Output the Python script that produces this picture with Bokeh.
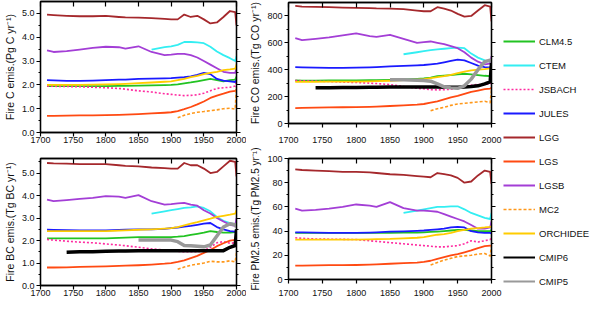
from bokeh.plotting import figure
from bokeh.models import (Range1d, FixedTicker, LinearAxis, NumeralTickFormatter, Legend,
                          LegendItem, CustomJSTickFormatter)
from bokeh.layouts import row, column
from bokeh.embed import file_html
from bokeh.resources import INLINE

nan = float("nan")

YEARS = [1710, 1720, 1740, 1760, 1780, 1800, 1820, 1830, 1850, 1870, 1890, 1900,
         1910, 1920, 1930, 1940, 1950, 1960, 1970, 1980, 1990, 1998, 2000]

MODELS = ["CLM4.5", "CTEM", "JSBACH", "JULES", "LGG", "LGS", "LGSB", "MC2",
          "ORCHIDEE", "CMIP6", "CMIP5"]

# ---- Fire C emissions (Pg C / yr)
C_CLM = [1.95, 1.95, 1.95, 1.95, 1.95, 1.95, 1.96, 1.96, 1.97, 1.98, 1.99, 2.00, 2.02, 2.06, 2.10, 2.15, 2.20, 2.25, 2.20, 2.15, 2.20, 2.22, 2.35]
C_CTEM = [nan, nan, nan, nan, nan, nan, nan, nan, nan, 3.48, 3.58, 3.62, 3.68, 3.80, 3.80, 3.78, 3.75, 3.60, 3.40, 3.25, 3.12, 3.00, 3.20]
C_JSBACH = [1.95, 1.94, 1.93, 1.92, 1.90, 1.88, 1.85, 1.82, 1.75, 1.70, 1.63, 1.60, 1.57, 1.55, 1.56, 1.58, 1.65, 1.75, 1.85, 1.88, 1.90, 1.95, 2.20]
C_JULES = [2.20, 2.19, 2.17, 2.17, 2.18, 2.20, 2.22, 2.22, 2.25, 2.26, 2.27, 2.28, 2.30, 2.32, 2.36, 2.42, 2.50, 2.45, 2.25, 2.18, 2.15, 2.12, 2.20]
C_LGG = [4.95, 4.93, 4.90, 4.88, 4.88, 4.90, 4.85, 4.83, 4.82, 4.80, 4.77, 4.75, 4.75, 4.95, 4.85, 4.90, 4.75, 4.58, 4.62, 4.85, 5.10, 5.05, 4.50]
C_LGS = [0.70, 0.70, 0.71, 0.72, 0.72, 0.73, 0.74, 0.75, 0.77, 0.80, 0.83, 0.85, 0.90, 0.98, 1.07, 1.18, 1.30, 1.45, 1.55, 1.63, 1.72, 1.75, 1.80]
C_LGSB = [3.45, 3.38, 3.42, 3.48, 3.55, 3.60, 3.58, 3.52, 3.62, 3.38, 3.25, 3.27, 3.30, 3.30, 3.25, 3.15, 3.00, 2.85, 2.70, 2.55, 2.50, 2.50, 2.70]
C_MC2 = [nan, nan, nan, nan, nan, nan, nan, nan, nan, nan, nan, nan, 0.62, 0.72, 0.80, 0.85, 0.88, 0.92, 0.95, 1.00, 1.02, 0.98, 1.90]
C_ORCHIDEE = [2.00, 2.00, 2.00, 2.00, 2.01, 2.02, 2.03, 2.04, 2.07, 2.10, 2.13, 2.15, 2.20, 2.25, 2.32, 2.38, 2.45, 2.50, 2.55, 2.62, 2.65, 2.68, 2.85]

# ---- Fire CO emissions (Tg CO / yr)
CO_CLM = [320, 318, 318, 320, 320, 320, 322, 323, 325, 328, 332, 335, 342, 352, 356, 360, 365, 370, 365, 360, 355, 352, 370]
CO_CTEM = [nan, nan, nan, nan, nan, nan, nan, nan, nan, 515, 530, 538, 545, 552, 556, 560, 565, 560, 520, 490, 470, 460, 455]
CO_JSBACH = [320, 318, 315, 312, 308, 305, 300, 297, 290, 275, 262, 258, 252, 250, 252, 255, 265, 275, 285, 290, 290, 295, 300]
CO_JULES = [420, 418, 415, 414, 414, 415, 418, 420, 425, 428, 432, 435, 440, 445, 455, 465, 475, 470, 450, 430, 420, 418, 430]
CO_LGG = [875, 870, 868, 865, 862, 860, 858, 856, 855, 850, 840, 835, 835, 865, 855, 840, 815, 795, 800, 840, 880, 870, 760]
CO_LGS = [115, 116, 118, 120, 121, 122, 124, 126, 130, 135, 140, 145, 155, 165, 180, 195, 205, 220, 235, 245, 255, 260, 265]
CO_LGSB = [635, 620, 630, 640, 655, 670, 650, 645, 660, 630, 600, 605, 610, 600, 590, 575, 560, 530, 490, 460, 440, 445, 500]
CO_MC2 = [nan, nan, nan, nan, nan, nan, nan, nan, nan, nan, nan, nan, 95, 110, 120, 135, 145, 150, 155, 160, 165, 155, 250]
CO_ORCHIDEE = [310, 310, 310, 311, 312, 312, 314, 315, 318, 322, 327, 330, 338, 345, 352, 362, 375, 385, 395, 400, 405, 410, 420]
CO_CMIP6 = [nan, nan, 265, 266, 267, 268, 269, 270, 272, 272, 272, 272, 272, 271, 270, 270, 270, 272, 275, 280, 295, 310, 450]
CO_CMIP5 = [nan, nan, nan, nan, nan, nan, nan, nan, 325, 325, 322, 320, 315, 295, 272, 265, 262, 280, 330, 400, 460, 470, 460]

# ---- Fire BC emissions (Tg BC / yr)
BC_CLM = [2.10, 2.10, 2.10, 2.10, 2.10, 2.10, 2.12, 2.13, 2.15, 2.15, 2.15, 2.15, 2.17, 2.20, 2.25, 2.30, 2.35, 2.42, 2.38, 2.35, 2.35, 2.38, 2.50]
BC_CTEM = [nan, nan, nan, nan, nan, nan, nan, nan, nan, 3.20, 3.30, 3.35, 3.40, 3.45, 3.48, 3.52, 3.45, 3.30, 3.05, 2.88, 2.78, 2.72, 2.70]
BC_JSBACH = [2.05, 2.02, 1.97, 1.93, 1.90, 1.85, 1.80, 1.77, 1.70, 1.63, 1.58, 1.55, 1.52, 1.50, 1.50, 1.50, 1.55, 1.70, 1.90, 1.95, 1.88, 1.90, 2.00]
BC_JULES = [2.48, 2.47, 2.46, 2.45, 2.45, 2.45, 2.47, 2.48, 2.50, 2.50, 2.52, 2.55, 2.58, 2.62, 2.65, 2.70, 2.75, 2.78, 2.60, 2.50, 2.42, 2.40, 2.45]
BC_LGG = [5.45, 5.43, 5.42, 5.40, 5.40, 5.40, 5.35, 5.32, 5.30, 5.25, 5.22, 5.20, 5.20, 5.45, 5.35, 5.35, 5.20, 5.00, 5.05, 5.30, 5.55, 5.50, 4.85]
BC_LGS = [0.80, 0.80, 0.81, 0.83, 0.84, 0.85, 0.87, 0.88, 0.90, 0.93, 0.97, 1.00, 1.05, 1.12, 1.22, 1.32, 1.45, 1.58, 1.75, 1.88, 2.00, 2.03, 2.05]
BC_LGSB = [3.82, 3.75, 3.80, 3.85, 3.90, 3.98, 3.95, 3.90, 4.02, 3.75, 3.60, 3.62, 3.65, 3.68, 3.60, 3.55, 3.35, 3.20, 3.00, 2.85, 2.70, 2.65, 3.00]
BC_MC2 = [nan, nan, nan, nan, nan, nan, nan, nan, nan, nan, nan, nan, 0.72, 0.82, 0.90, 0.95, 1.00, 1.08, 1.05, 1.05, 1.10, 1.05, 1.45]
BC_ORCHIDEE = [2.42, 2.42, 2.42, 2.42, 2.42, 2.42, 2.44, 2.45, 2.48, 2.50, 2.53, 2.55, 2.60, 2.68, 2.75, 2.82, 2.90, 2.97, 3.05, 3.10, 3.15, 3.20, 3.35]
BC_CMIP6 = [nan, nan, 1.48, 1.50, 1.50, 1.52, 1.53, 1.53, 1.55, 1.55, 1.55, 1.55, 1.55, 1.55, 1.55, 1.55, 1.55, 1.55, 1.55, 1.55, 1.70, 1.78, 2.50]
BC_CMIP5 = [nan, nan, nan, nan, nan, nan, nan, nan, 2.02, 2.02, 2.02, 2.02, 1.95, 1.78, 1.77, 1.75, 1.72, 1.80, 2.20, 2.60, 2.75, 2.70, 2.60]

# ---- Fire PM2.5 emissions (Tg PM2.5 / yr)
PM_CLM = [38.5, 38.5, 38.5, 38.5, 38.5, 38.5, 38.5, 38.5, 38.5, 38.7, 38.8, 39.0, 39.3, 39.6, 40.0, 40.5, 41.0, 41.0, 40.5, 40.0, 40.0, 40.0, 41.0]
PM_CTEM = [nan, nan, nan, nan, nan, nan, nan, nan, nan, 55, 57, 58, 59, 60, 60, 60.5, 60.5, 58, 55, 53, 51, 50, 55]
PM_JSBACH = [34.5, 34.0, 33.5, 33.3, 33.2, 33.0, 32.0, 31.5, 30.5, 29.5, 28.5, 28.0, 27.5, 27.0, 27.0, 27.5, 28.0, 29.5, 32.0, 31.0, 32.0, 33.0, 35.0]
PM_JULES = [39.0, 39.0, 38.7, 38.5, 38.5, 38.5, 38.8, 39.0, 39.5, 39.8, 40.2, 40.5, 41.0, 41.5, 42.0, 43.0, 43.5, 43.0, 40.0, 39.0, 38.5, 38.5, 38.0]
PM_LGG = [91, 90.5, 90, 89.5, 89, 89, 88.5, 88, 87, 86.5, 85.5, 85, 84.5, 88, 87, 86, 84, 80, 81, 86, 90, 89, 79]
PM_LGS = [11.5, 11.5, 11.7, 11.8, 11.9, 12.0, 12.3, 12.5, 13.0, 13.5, 14.0, 14.5, 15.5, 17.0, 18.5, 20.0, 21.0, 22.5, 24.0, 26.0, 27.5, 28.0, 28.0]
PM_LGSB = [58.5, 57, 57.5, 58.5, 60, 62, 61, 60, 64, 59, 57, 57, 56.5, 56, 54, 52, 50, 48, 45, 42, 42, 43, 48]
PM_MC2 = [nan, nan, nan, nan, nan, nan, nan, nan, nan, nan, nan, nan, 12, 14, 16, 17.5, 19, 19.5, 20, 21, 21.5, 19.5, 28]
PM_ORCHIDEE = [33, 33, 33, 33, 33, 33, 33.2, 33.3, 33.5, 34, 34.5, 35, 36, 37, 37.5, 38.5, 40, 41, 42, 42.5, 43, 43.5, 44]

X_TICKS = [1700, 1750, 1800, 1850, 1900, 1950, 2000]

STYLE = {
    "CLM4.5":   dict(color="#22c322", width=1.8, dash="solid"),
    "CTEM":     dict(color="#33eef2", width=1.8, dash="solid"),
    "JSBACH":   dict(color="#ff2aa0", width=1.6, dash="2 2"),
    "JULES":    dict(color="#1a1aff", width=1.8, dash="solid"),
    "LGG":      dict(color="#a5282c", width=1.8, dash="solid"),
    "LGS":      dict(color="#ff4a12", width=1.8, dash="solid"),
    "LGSB":     dict(color="#a33ed6", width=1.8, dash="solid"),
    "MC2":      dict(color="#ff981a", width=1.6, dash="3 2"),
    "ORCHIDEE": dict(color="#ffcc00", width=1.8, dash="solid"),
    "CMIP6":    dict(color="#000000", width=3.5, dash="solid"),
    "CMIP5":    dict(color="#999999", width=3.5, dash="solid"),
}

FONT = "Liberation Sans"
BLANK = CustomJSTickFormatter(code="return '';")


def style_axis(ax, labels=True, tick_in=False):
    ax.axis_line_color = "black"
    ax.axis_line_width = 1.3
    ax.major_tick_line_color = "black"
    ax.minor_tick_line_color = "black"
    ax.major_tick_line_width = 1.2
    ax.minor_tick_line_width = 1.0
    if tick_in:
        ax.major_tick_in, ax.major_tick_out = 5, 0
        ax.minor_tick_in, ax.minor_tick_out = 3, 0
    else:
        ax.major_tick_in, ax.major_tick_out = 0, 4
        ax.minor_tick_in, ax.minor_tick_out = 0, 2
    ax.major_label_text_font = FONT
    ax.major_label_text_color = "#111111"
    if labels:
        ax.major_label_text_font_size = "9px"
        ax.major_label_standoff = 2
    else:
        ax.formatter = BLANK
        ax.major_label_text_font_size = "1px"
        ax.major_label_standoff = 0


def make_panel(series, ylabel, ylabel_size, ymax, yticks, yminor, fmt, width, height,
               bl, bt, bb, br, xstandoff):
    p = figure(width=width, height=height, output_backend="svg", toolbar_location=None,
               x_range=Range1d(1700, 2000), y_range=Range1d(0, ymax),
               min_border_left=bl, min_border_top=bt, min_border_bottom=bb,
               min_border_right=br)
    p.xgrid.visible = False
    p.ygrid.visible = False
    p.outline_line_color = "black"
    p.outline_line_width = 1.3
    p.background_fill_color = "white"
    p.border_fill_color = "white"

    xt = FixedTicker(ticks=X_TICKS, minor_ticks=[])
    yt = FixedTicker(ticks=yticks, minor_ticks=yminor)

    xa = p.xaxis[0]
    xa.ticker = xt
    style_axis(xa)
    xa.major_label_standoff = xstandoff
    ya = p.yaxis[0]
    ya.ticker = yt
    ya.formatter = NumeralTickFormatter(format=fmt)
    style_axis(ya)
    ya.axis_label = ylabel
    ya.axis_label_text_font = FONT
    ya.axis_label_text_font_size = ylabel_size
    ya.axis_label_text_font_style = "normal"
    ya.axis_label_text_color = "#111111"
    ya.axis_label_standoff = 3

    top = LinearAxis(ticker=xt)
    style_axis(top, labels=False, tick_in=True)
    p.add_layout(top, "above")
    right = LinearAxis(ticker=yt)
    style_axis(right, labels=False)
    p.add_layout(right, "right")

    for m in MODELS:
        if m in series:
            s = STYLE[m]
            p.line(YEARS, series[m], line_color=s["color"], line_width=s["width"],
                   line_dash=s["dash"], line_join="round")
    return p


SER_C = {"CLM4.5": C_CLM, "CTEM": C_CTEM, "JSBACH": C_JSBACH, "JULES": C_JULES,
         "LGG": C_LGG, "LGS": C_LGS, "LGSB": C_LGSB, "MC2": C_MC2, "ORCHIDEE": C_ORCHIDEE}
SER_CO = {"CLM4.5": CO_CLM, "CTEM": CO_CTEM, "JSBACH": CO_JSBACH, "JULES": CO_JULES,
          "LGG": CO_LGG, "LGS": CO_LGS, "LGSB": CO_LGSB, "MC2": CO_MC2, "ORCHIDEE": CO_ORCHIDEE,
          "CMIP6": CO_CMIP6, "CMIP5": CO_CMIP5}
SER_BC = {"CLM4.5": BC_CLM, "CTEM": BC_CTEM, "JSBACH": BC_JSBACH, "JULES": BC_JULES,
          "LGG": BC_LGG, "LGS": BC_LGS, "LGSB": BC_LGSB, "MC2": BC_MC2, "ORCHIDEE": BC_ORCHIDEE,
          "CMIP6": BC_CMIP6, "CMIP5": BC_CMIP5}
SER_PM = {"CLM4.5": PM_CLM, "CTEM": PM_CTEM, "JSBACH": PM_JSBACH, "JULES": PM_JULES,
          "LGG": PM_LGG, "LGS": PM_LGS, "LGSB": PM_LGSB, "MC2": PM_MC2, "ORCHIDEE": PM_ORCHIDEE}

p_c = make_panel(SER_C, "Fire C emis.(Pg C yr⁻¹)", "10.5px", 5.5,
                 [0, 1, 2, 3, 4, 5], [0.5, 1.5, 2.5, 3.5, 4.5], "0.0",
                 246, 157, 34, 1, 25, 10, 0)
p_co = make_panel(SER_CO, "Fire CO emis.(Tg CO yr⁻¹)", "10.5px", 900,
                  [0, 200, 400, 600, 800], [100, 300, 500, 700], "0",
                  256, 147, 40, 2, 24, 11, 9)
p_bc = make_panel(SER_BC, "Fire BC emis.(Tg BC yr⁻¹)", "10.5px", 5.65,
                  [0, 1, 2, 3, 4, 5], [0.5, 1.5, 2.5, 3.5, 4.5, 5.5], "0.0",
                  246, 144, 34, 1, 16, 10, 0)
p_pm = make_panel(SER_PM, "Fire PM2.5 emis.(Tg PM2.5 yr⁻¹)", "10px", 100,
                  [0, 20, 40, 60, 80, 100], [10, 30, 50, 70, 90], "0",
                  256, 154, 40, 11, 22, 11, 6)

# ---- legend panel
leg = figure(width=90, height=301, output_backend="svg", toolbar_location=None,
             x_range=Range1d(0, 1), y_range=Range1d(0, 1),
             min_border=0, outline_line_color=None)
leg.axis.visible = False
leg.xgrid.visible = False
leg.ygrid.visible = False
items = []
for m in MODELS:
    s = STYLE[m]
    r = leg.line([nan, nan], [nan, nan], line_color=s["color"],
                 line_width=min(s["width"], 2.0), line_dash=s["dash"])
    items.append(LegendItem(label=m, renderers=[r]))
legend = Legend(items=items, location=(1, 14), orientation="vertical",
                glyph_width=32, glyph_height=12, label_height=12, label_width=20,
                label_standoff=4, spacing=12, padding=0, margin=0,
                border_line_color=None, background_fill_alpha=0,
                label_text_font=FONT, label_text_font_size="9.5px",
                label_text_color="#111111")
leg.add_layout(legend)

layout = row(column(p_c, p_bc), column(p_co, p_pm), leg)

open("out.html", "w").write(file_html(layout, INLINE))
